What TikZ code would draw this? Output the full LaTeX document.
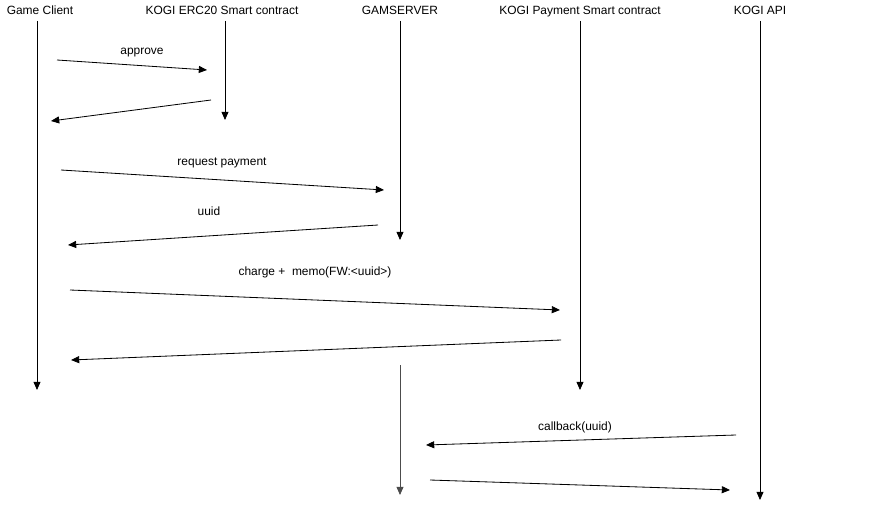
\documentclass[tikz,border=0pt]{standalone}
\usepackage{fontspec}
\setmainfont{Liberation Sans}
\usetikzlibrary{arrows.meta}
\tikzset{msg/.style={-{Triangle[length=7pt,width=6pt]},line width=.7pt},
life/.style={-{Triangle[length=7pt,width=6pt]},line width=.7pt},
lbl/.style={inner sep=0pt,anchor=base,font=\fontsize{10.2}{12}\selectfont}}

\begin{document}
\begin{tikzpicture}[x=.03cm,y=-.03cm]
\useasboundingbox (0,0) rectangle (881,509);
\node[lbl] (gc) at (40,15){Game Client};
\node[lbl] (erc) at (222,15){KOGI ERC20 Smart contract};
\node[lbl] (gs) at (400,15){GAMSERVER};
\node[lbl] (pay) at (580,15){KOGI Payment Smart contract};
\node[lbl] (api) at (760,15){KOGI API};
\coordinate (gc0) at (37,21);\coordinate (gc1) at (37,390);
\coordinate (erc0) at (225,21);\coordinate (erc1) at (225,120);
\coordinate (gs0) at (400,21);\coordinate (gs1) at (400,240);
\coordinate (gs2) at (400,365);\coordinate (gs3) at (400,495);
\coordinate (pay0) at (580,21);\coordinate (pay1) at (580,390);
\coordinate (api0) at (760,21);\coordinate (api1) at (760,500);
\draw[life] (gc0)--(gc1);\draw[life] (erc0)--(erc1);\draw[life] (gs0)--(gs1);
\draw[life,black!70] (gs2)--(gs3);\draw[life] (pay0)--(pay1);\draw[life] (api0)--(api1);
\coordinate (a0) at (57,60);\coordinate (a1) at (207,70);
\coordinate (b0) at (211,100);\coordinate (b1) at (51,121);
\coordinate (c0) at (61,170);\coordinate (c1) at (384,190);
\coordinate (d0) at (378,225);\coordinate (d1) at (68,245);
\coordinate (e0) at (70,290);\coordinate (e1) at (560,310);
\coordinate (f0) at (561,340);\coordinate (f1) at (71,360);
\coordinate (g0) at (736,435);\coordinate (g1) at (426,445);
\coordinate (h0) at (430,480);\coordinate (h1) at (730,490);
\foreach \m in {a,b,c,d,e,f,g,h}{\draw[msg] (\m0)--(\m1);}
\node[lbl] (approve) at (142,55){approve};
\node[lbl] (req) at (222,165){request payment};
\node[lbl] (uuid) at (209,215){uuid};
\node[lbl] (charge) at (315,275){charge +\ \ memo(FW:<uuid>)};
\node[lbl] (cb) at (575,430){callback(uuid)};
\end{tikzpicture}
\end{document}
